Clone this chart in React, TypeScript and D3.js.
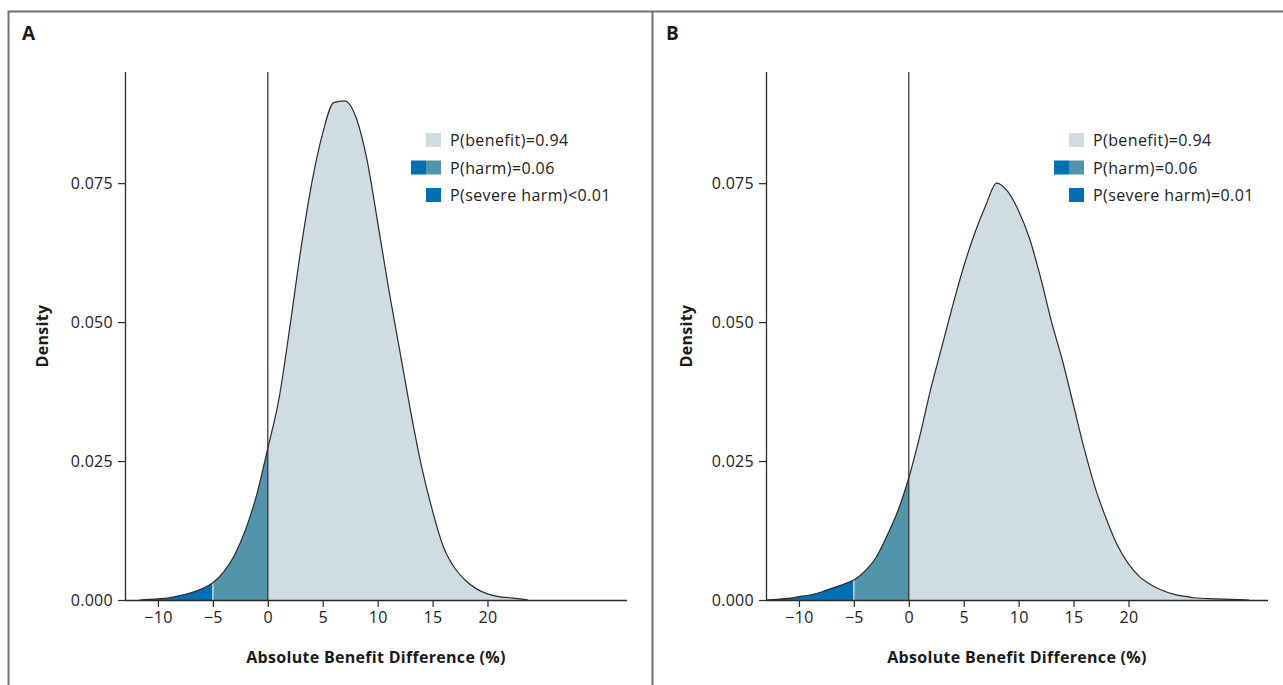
import React, { useEffect, useRef } from 'react'
import * as d3 from 'd3'

// absolute benefit difference (%) and posterior density
const xA = [-11.7, -10, -9, -8, -7, -6, -5, -4, -3, -2, -1, 0, 1, 2, 3, 4, 5, 6, 7, 8, 9, 10, 11, 12, 13, 14, 15, 16, 17, 18, 19, 20, 21, 22, 23, 23.7]
const dA = [0, 0.0002, 0.0004, 0.0008, 0.0013, 0.002, 0.0031, 0.0051, 0.0082, 0.0128, 0.019, 0.0273, 0.036, 0.049, 0.063, 0.075, 0.084, 0.0895, 0.0898, 0.087, 0.0795, 0.068, 0.056, 0.045, 0.034, 0.024, 0.016, 0.0095, 0.0058, 0.0035, 0.002, 0.0011, 0.0006, 0.0004, 0.0002, 0]

const xB = [-13, -12, -11, -10, -9, -8, -7, -6, -5, -4, -3, -2, -1, 0, 1, 2, 3, 4, 5, 6, 7, 8, 9, 10, 11, 12, 13, 14, 15, 16, 17, 18, 19, 20, 21, 22, 23, 24, 25, 26, 28, 31]
const dB = [0, 0.0001, 0.0003, 0.0006, 0.0009, 0.0014, 0.0021, 0.0028, 0.0036, 0.0052, 0.0076, 0.0115, 0.016, 0.022, 0.0295, 0.038, 0.0455, 0.053, 0.06, 0.066, 0.071, 0.075, 0.0735, 0.07, 0.065, 0.058, 0.05, 0.043, 0.035, 0.027, 0.02, 0.0145, 0.0098, 0.0065, 0.0042, 0.0028, 0.0018, 0.0011, 0.0007, 0.0004, 0.0002, 0]

const legendA = ['P(benefit)=0.94', 'P(harm)=0.06', 'P(severe harm)<0.01']
const legendB = ['P(benefit)=0.94', 'P(harm)=0.06', 'P(severe harm)=0.01']

const xTicks = [-10, -5, 0, 5, 10, 15, 20]
const yTicks = [0, 0.025, 0.05, 0.075]

const BENEFIT = '#cfdce2'
const HARM = '#5295aa'
const SEVERE = '#0070b4'
const INK = '#2b2b2b'
const FONT = '"Open Sans", sans-serif'

function Panel({ id, label, xs, ds, legend, left, axisX, legendX }) {
  const xRef = useRef(null)
  const yRef = useRef(null)

  const top = 72, bottom = 600
  const x = d3.scaleLinear().domain([-13, 32.7]).range([axisX, axisX + 502])
  const y = d3.scaleLinear().domain([0, 0.095]).range([bottom, top])

  const pts = xs.map((v, i) => [v, ds[i]])
  const area = d3.area().x(d => x(d[0])).y0(y(0)).y1(d => y(d[1])).curve(d3.curveMonotoneX)
  const line = d3.line().x(d => x(d[0])).y(d => y(d[1])).curve(d3.curveMonotoneX)
  const dMinus5 = ds[xs.indexOf(-5)]

  useEffect(() => {
    const gx = d3.select(xRef.current)
    gx.selectAll('*').remove()
    gx.call(d3.axisBottom(x).tickValues(xTicks).tickSize(7).tickPadding(5).tickFormat(d3.format('d')))
    gx.select('.domain').attr('stroke', INK).attr('stroke-width', 1.3).attr('d', `M${axisX},0.5H${axisX + 502}`)
    gx.selectAll('.tick line').attr('stroke', INK).attr('stroke-width', 1.2)
    gx.selectAll('.tick text').attr('font-family', FONT).attr('font-size', 16).attr('letter-spacing', 0.3).attr('fill', '#222')

    const gy = d3.select(yRef.current)
    gy.selectAll('*').remove()
    gy.call(d3.axisLeft(y).tickValues(yTicks).tickSize(7).tickPadding(5).tickFormat(d3.format('.3f')))
    gy.select('.domain').attr('stroke', INK).attr('stroke-width', 1.3).attr('d', `M0.5,${bottom}V${top}`)
    gy.selectAll('.tick line').attr('stroke', INK).attr('stroke-width', 1.2)
    gy.selectAll('.tick text').attr('font-family', FONT).attr('font-size', 16).attr('letter-spacing', 0.3).attr('fill', '#222')
  })

  const rows = [140, 167.5, 195]

  return (
    <g>
      <defs>
        <clipPath id={`${id}-sev`}><rect x={0} y={0} width={x(-5)} height={bottom} /></clipPath>
        <clipPath id={`${id}-harm`}><rect x={x(-5)} y={0} width={x(0) - x(-5)} height={bottom} /></clipPath>
        <clipPath id={`${id}-ben`}><rect x={x(0)} y={0} width={1283} height={bottom} /></clipPath>
      </defs>
      <text x={left + 14} y={40} fontFamily={FONT} fontWeight="700" fontSize={19} fill="#1a1a1a">{label}</text>

      <path d={area(pts)} fill={SEVERE} clipPath={`url(#${id}-sev)`} />
      <path d={area(pts)} fill={HARM} clipPath={`url(#${id}-harm)`} />
      <path d={area(pts)} fill={BENEFIT} clipPath={`url(#${id}-ben)`} />
      <line x1={x(-5)} x2={x(-5)} y1={bottom} y2={y(dMinus5)} stroke="#e8f0f4" strokeWidth={1.2} />
      <path d={line(pts)} fill="none" stroke={INK} strokeWidth={1.2} />
      <line x1={x(0)} x2={x(0)} y1={top} y2={bottom} stroke={INK} strokeWidth={1.2} />

      <g ref={xRef} transform={`translate(0,${bottom})`} />
      <g ref={yRef} transform={`translate(${axisX},0)`} />

      <text x={axisX + 251} y={663} textAnchor="middle" fontFamily={FONT} fontWeight="700" fontSize={16} letterSpacing={0.3} fill="#1a1a1a">Absolute Benefit Difference (%)</text>
      <text transform={`translate(${left + 40},${336}) rotate(-90)`} textAnchor="middle" fontFamily={FONT} fontWeight="700" fontSize={16} letterSpacing={0.3} fill="#1a1a1a">Density</text>

      {legend.map((t, i) => (
        <g key={t}>
          {i === 1 && <rect x={legendX - 15} y={rows[i] - 7} width={15} height={14} fill={SEVERE} />}
          <rect x={legendX} y={rows[i] - 7} width={15} height={14} fill={i === 0 ? BENEFIT : i === 1 ? HARM : SEVERE} />
          <text x={legendX + 24} y={rows[i]} dominantBaseline="central" fontFamily={FONT} fontSize={16} letterSpacing={0.4} fill="#222">{t}</text>
        </g>
      ))}
    </g>
  )
}

export default function App() {
  return (
    <svg width={1283} height={685} style={{ position: 'absolute', left: 0, top: 0, background: '#fff' }}>
      <line x1={8} x2={1283} y1={11.5} y2={11.5} stroke="#707070" strokeWidth={2} />
      <line x1={8.5} x2={8.5} y1={11} y2={685} stroke="#707070" strokeWidth={2} />
      <line x1={652.5} x2={652.5} y1={11} y2={685} stroke="#707070" strokeWidth={2} />
      <Panel id="pa" label="A" xs={xA} ds={dA} legend={legendA} left={8} axisX={125} legendX={426} />
      <Panel id="pb" label="B" xs={xB} ds={dB} legend={legendB} left={652} axisX={766} legendX={1069} />
    </svg>
  )
}
